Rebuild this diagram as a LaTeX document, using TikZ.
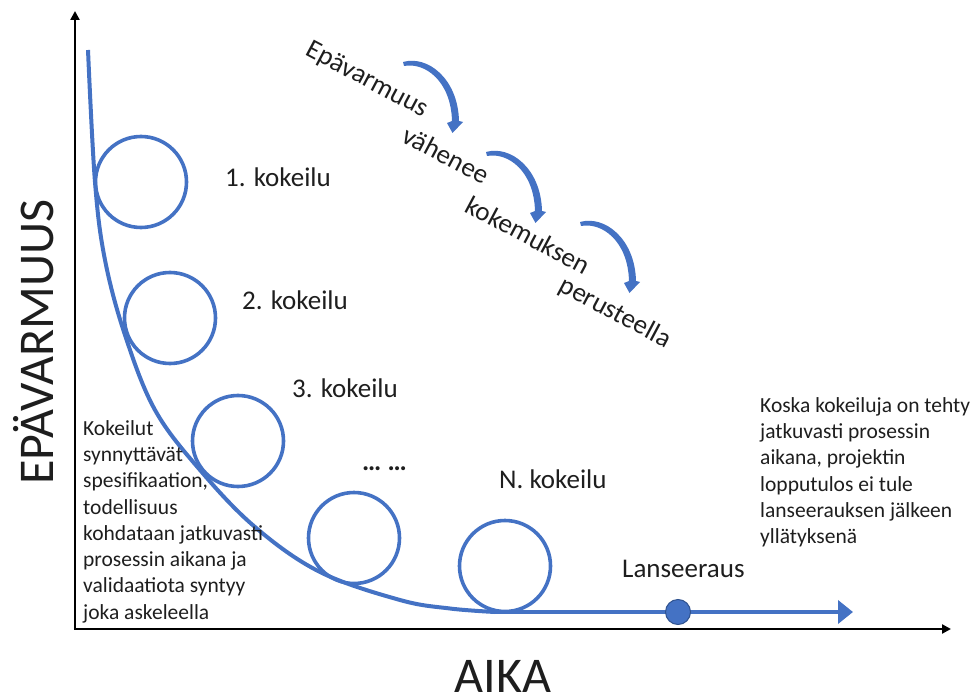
\documentclass[tikz,border=0pt]{standalone}
\usepackage{fontspec}
\setmainfont{Carlito}
\usetikzlibrary{arrows.meta,calc}
\definecolor{accent}{HTML}{4472C4}
\definecolor{accentdark}{HTML}{2F528F}
\definecolor{ink}{HTML}{1E1E1E}
\begin{document}
\begin{tikzpicture}[x=1pt,y=-1pt,
  every node/.style={text=ink},
  axis/.style={line width=2.4pt, draw=black, -{Triangle[length=9pt,width=9pt]}},
  flow/.style={draw=accent, line width=4pt},
  trial/.style={circle, draw=accent, line width=3.6pt, minimum size=91pt, inner sep=0pt},
  trialtag/.style={font=\fontsize{27}{32}\selectfont, inner sep=0pt, anchor=base west},
  note/.style={font=\fontsize{21.5}{26.3}\selectfont, inner sep=0pt, align=left, anchor=north west},
  axistag/.style={font=\fontsize{50}{60}\selectfont, inner sep=0pt},
  word/.style={font=\fontsize{27}{32}\selectfont, rotate=-28, inner sep=0pt},
  bendarrow/.pic={
    \fill[accent] (1,-1) .. controls (25,-8) and (56,15) .. (57,58)
      -- (61,59) -- (50.5,70) -- (45,60) -- (50,58)
      .. controls (49,18) and (23,-1) .. (2,3) -- cycle;
  }
]
\useasboundingbox (0,0) rectangle (980,695);

% axes
\coordinate (origin) at (75,629);
\coordinate (ytop) at (75,11);
\coordinate (xend) at (951,629);
\draw[axis] (origin) -- (ytop);
\draw[axis] ($(origin)+(-1.2,0)$) -- (xend);

% axis titles
\node[axistag, anchor=base] (xlabel) at (503,692) {AIKA};
\node[axistag, rotate=90, anchor=base] (ylabel) at (53,342) {EPÄVARMUUS};

% uncertainty curve
\coordinate (curvestart) at (88,50);
\coordinate (curveend) at (495,612);
\coordinate (flowend) at (853,612);
\draw[flow] plot[smooth, tension=0.6] coordinates {(88,50) (95,182) (105,260) (125,335) (155,410) (200,470) (255,527) (320,572) (400,600) (450,608.5) (495,612)};
\draw[flow, -{Triangle[length=15pt,width=23pt]}] (curveend) -- (flowend);

% experiments
\node[trial] (t1) at (141,182) {};
\node[trial] (t2) at (170,318) {};
\node[trial] (t3) at (238,441) {};
\node[trial] (t4) at (354,538) {};
\node[trial] (t5) at (505,566) {};

\node[trialtag] (l1) at (225,187) {1. kokeilu};
\node[trialtag] (l2) at (242,309) {2. kokeilu};
\node[trialtag] (l3) at (292,397) {3. kokeilu};
\node[trialtag] (ldots) at (362,470) {\textbf{… …}};
\node[trialtag] (ln) at (499,488) {N. kokeilu};

% launch
\node[circle, fill=accent, draw=accentdark, line width=1pt, minimum size=25pt, inner sep=0pt] (launch) at (678,612) {};
\node[trialtag] (launchtag) at (622,577) {Lanseeraus};

% explanations
\node[note] (leftnote) at (83,420) {Kokeilut\\synnyttävät\\spesifikaation,\\todellisuus\\kohdataan jatkuvasti\\prosessin aikana ja\\validaatiota syntyy\\joka askeleella};
\node[note] (rightnote) at (760,397) {Koska kokeiluja on tehty\\jatkuvasti prosessin\\aikana, projektin\\lopputulos ei tule\\lanseerauksen jälkeen\\yllätyksenä};

% diagonal phrase
\node[word] (w1) at (367,80) {Epävarmuus};
\node[word] (w2) at (446,155) {vähenee};
\node[word] (w3) at (528,235) {kokemuksen};
\node[word] (w4) at (615,313) {perusteella};

% bent arrows
\pic at (402,63) {bendarrow};
\pic at (485,153) {bendarrow};
\pic at (579,223) {bendarrow};
\end{tikzpicture}
\end{document}
